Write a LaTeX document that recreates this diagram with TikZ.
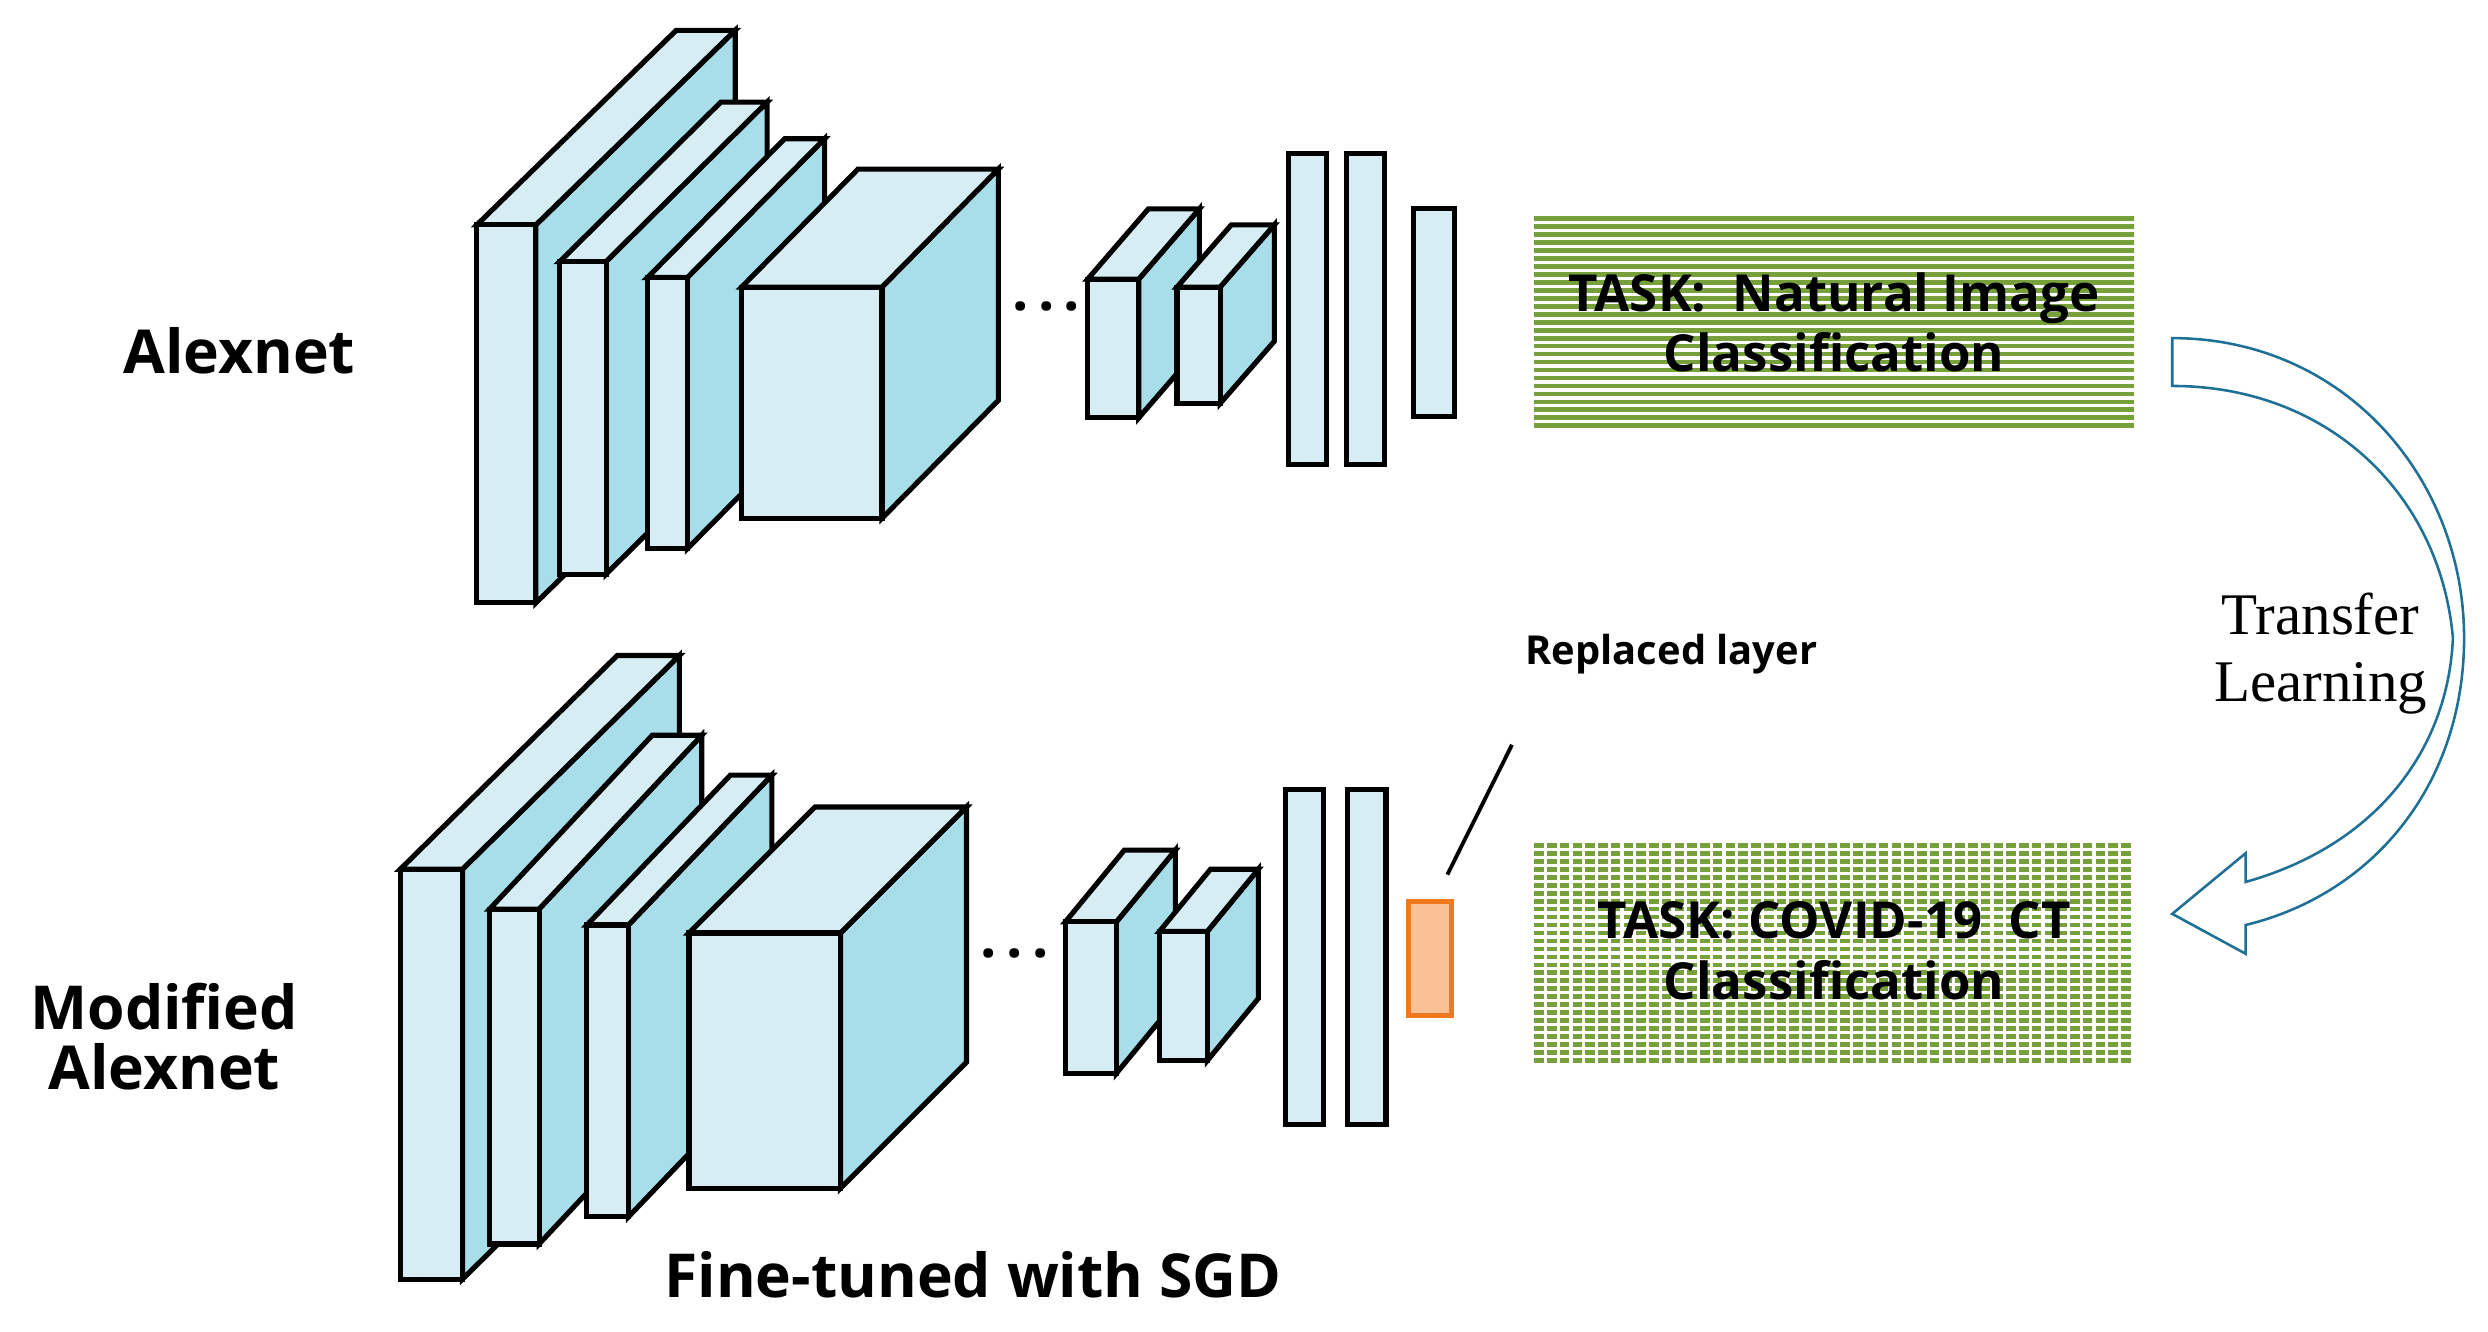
\documentclass[tikz,border=0pt]{standalone}
\usepackage{fontspec}
\setmainfont{Open Sans}
\newfontfamily\serif{Liberation Serif}
\usetikzlibrary{calc}
\definecolor{frontcol}{RGB}{214,238,243}
\definecolor{sidecol}{RGB}{168,222,233}
\definecolor{taskgreen}{RGB}{118,160,58}
\definecolor{arrowblue}{RGB}{30,112,150}
\definecolor{replcol}{RGB}{250,192,150}
\definecolor{replline}{RGB}{240,120,30}
% cuboid: x, y (front top-left), width, height, dx, dy (depth)
\newcommand\layerbox[6]{%
    \draw[layer,fill=sidecol] (#1+#3,#2) -- ++(#5,-#6) -- ++(0,#4) -- ++(-#5,#6) -- cycle;
    \draw[layer,fill=frontcol] (#1,#2) -- ++(#5,-#6) -- ++(#3,0) -- ++(-#5,#6) -- cycle;
    \draw[layer,fill=frontcol] (#1,#2) rectangle ++(#3,#4);
}
\begin{document}
\begin{tikzpicture}[x=0.5pt,y=-0.5pt,line join=miter,
    layer/.style={draw=black,line width=1.6pt},
    fc/.style={draw=black,line width=1.6pt,fill=frontcol,inner sep=0pt,minimum width=12pt},
    dots/.style={font=\fontsize{18}{20}\selectfont\bfseries},
    lbl/.style={font=\fontsize{19}{22}\selectfont\bfseries,align=center},
    task/.style={font=\fontsize{16}{20}\selectfont\bfseries,align=center}]
    \useasboundingbox (0,0) rectangle (1560,835);
    %% top network
    \layerbox{299}{141}{37}{237}{125}{122}
    \layerbox{351}{164}{29}{196}{101}{100}
    \layerbox{406}{174}{25}{170}{86}{87}
    \layerbox{465}{180}{88}{145}{73}{74}
    \layerbox{682}{175}{32}{87}{38}{44}
    \layerbox{738}{180}{27}{73}{34}{39}
    \node[fc,minimum height=97.5pt] (fa1) at (820,193.5) {};
    \node[fc,minimum height=97.5pt] (fa2) at (856,193.5) {};
    \node[fc,minimum width=13pt,minimum height=65pt] (fa3) at (899,196) {};
    \node[dots] (dotsa) at (656,192) {\textbf{.\,.\,.}};
    %% bottom network
    \layerbox{251}{545}{39}{257}{136}{134}
    \layerbox{307}{570}{31}{210}{102}{109}
    \layerbox{368}{580}{26}{183}{90}{94}
    \layerbox{432}{585}{95}{160}{79}{79}
    \layerbox{668}{578}{32}{95}{37}{45}
    \layerbox{727}{584}{30}{81}{32}{39}
    \node[fc,minimum height=105pt] (fb1) at (818,600) {};
    \node[fc,minimum height=105pt] (fb2) at (857,600) {};
    \node[draw=replline,fill=replcol,line width=1.6pt,minimum width=13.5pt,minimum height=36pt,inner sep=0pt] (repl) at (896.5,601) {};
    \node[dots] (dotsb) at (636,598) {\textbf{.\,.\,.}};
    %% labels
    \node[lbl] (alex) at (150,220) {Alexnet};
    \node[lbl] (modalex) at (103,650) {Modified\\[-3pt]Alexnet};
    \node[lbl] (sgd) at (610,799) {Fine-tuned with SGD};
    \node[font=\fontsize{12.5}{15}\selectfont\bfseries] (repltext) at (1048,410) {Replaced layer};
    \coordinate (replend) at (948,467);
    \draw[line width=1.2pt] (replend) -- ($(repl.north)+(11,-15)$);
    %% task boxes
    \foreach \yy in {137,142,...,270} {
        \draw[taskgreen,line width=1.5pt] (962,\yy) -- (1338,\yy);
    }
    \foreach \yy in {530,535,...,666} {
        \draw[taskgreen,line width=1.5pt,dash pattern=on 3pt off 1pt] (962,\yy) -- (1338,\yy);
    }
    \node[task] (taska) at (1150,202) {TASK:\ \ Natural Image\\[-1pt]Classification};
    \node[task] (taskb) at (1150,596) {TASK: COVID-19\ \ CT\\[-1pt]Classification};
    %% transfer arrow
    \draw[arrowblue,line width=0.8pt] (1362,212) .. controls (1470,212) and (1545,300) .. (1545,400)
        .. controls (1545,490) and (1490,560) .. (1408,580) -- (1408,598) -- (1362,573) -- (1408,535) -- (1408,553)
        .. controls (1490,530) and (1535,470) .. (1538,400) .. controls (1530,310) and (1460,242) .. (1362,242) -- cycle;
    \node[font=\fontsize{18.5}{23}\selectfont\serif,align=center] (transfer) at (1455,410) {Transfer\\[-2pt]Learning};
\end{tikzpicture}
\end{document}
